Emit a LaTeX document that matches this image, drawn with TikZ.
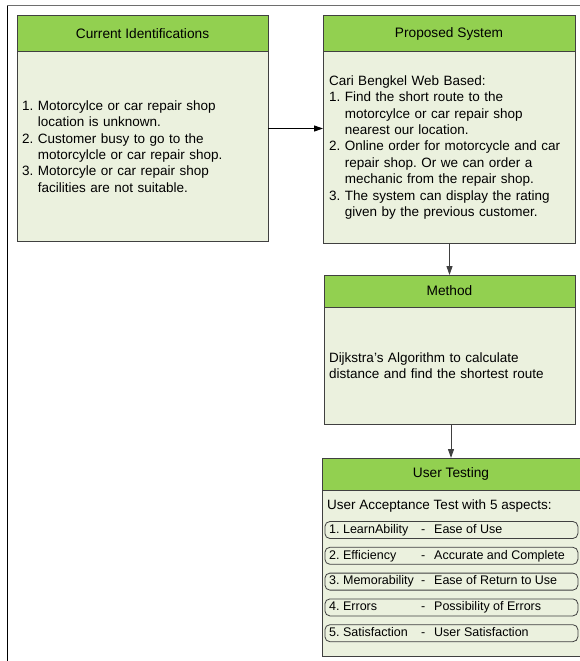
\documentclass[tikz,border=0pt]{standalone}
\usepackage{fontspec}
\setmainfont{Liberation Sans}
\usetikzlibrary{arrows.meta,positioning,fit}
\definecolor{verde}{HTML}{92D050}
\definecolor{fondo}{HTML}{EBF1DE}
\definecolor{borde}{HTML}{404040}
\definecolor{marco}{HTML}{6E6E6E}
\frenchspacing

\begin{document}
\begin{tikzpicture}[x=1pt,y=-1pt,font=\fontsize{13.5}{16.4}\selectfont,
  head/.style={draw=borde,fill=verde,line width=1pt,anchor=north west,inner sep=0pt,outer sep=0pt,font=\fontsize{13.7}{16.4}\selectfont},
  body/.style={draw=borde,fill=fondo,line width=1pt,anchor=north west,inner ysep=0pt,inner xsep=5pt,outer sep=0pt,align=left},
  aspect/.style={draw=borde,line width=0.8pt,rounded corners=5pt,minimum width=253pt,minimum height=17pt,anchor=west,inner sep=0pt},
  lbl/.style={anchor=west,inner sep=0pt,text height=9.5pt,text depth=3pt},
  small/.style={font=\fontsize{12.5}{15}\selectfont},
  flecha/.style={-{Triangle[length=9pt,width=6pt]},line width=1pt}]
\useasboundingbox[fill=white] (0,0) rectangle (579,661);
\coordinate (esquina) at (7,6);
\draw[marco,line width=1pt] (esquina) -- ++(590,0);
\draw[black,line width=1pt] (esquina) -- ++(0,670);
% Current Identifications
\node[head,minimum width=251pt,minimum height=36pt] (ciHead) at (17,16) {Current Identifications};
\node[body,minimum height=189pt,text width=241pt] (ciBody) at (ciHead.south west) {1. Motorcylce or car repair shop\\
\phantom{1. }location is unknown.\\
2. Customer busy to go to the\\
\phantom{2. }motorcylcle or car repair shop.\\
3. Motorcyle or car repair shop\\
\phantom{3. }facilities are not suitable.};
\node[fit=(ciHead)(ciBody),inner sep=0pt] (ci) {};
% Proposed System
\node[head,minimum width=252pt,minimum height=36pt] (psHead) at (323,16) {Proposed System};
\node[body,minimum height=191pt,inner xsep=6pt,text width=240pt] (psBody) at (psHead.south west) {Cari Bengkel Web Based:\\
1. Find the short route to the\\
\phantom{1. }motorcylce or car repair shop\\
\phantom{1. }nearest our location.\\
2. Online order for motorcycle and car\\
\phantom{2. }repair shop. Or we can order a\\
\phantom{2. }mechanic from the repair shop.\\
3. The system can display the rating\\
\phantom{3. }given by the previous customer.};
% Method
\node[head,minimum width=251pt,minimum height=32pt] (mHead) at (324,275) {Method};
\node[body,minimum height=117pt,text width=241pt] (mBody) at (mHead.south west) {Dijkstra's Algorithm to calculate\\
distance and find the shortest route};
% User Testing
\node[head,minimum width=258pt,minimum height=32pt] (utHead) at (322,458) {User Testing};
\node[body,minimum height=166pt,minimum width=258pt] (utBody) at (utHead.south west) {};
\node[lbl] (utIntro) at (327,506) {User Acceptance Test with 5 aspects:};
\foreach \i/\a/\b in {1/1. LearnAbility/Ease of Use,
                      2/2. Efficiency/Accurate and Complete,
                      3/3. Memorability/Ease of Return to Use,
                      4/4. Errors/Possibility of Errors,
                      5/5. Satisfaction/User Satisfaction}{
  \node[aspect] (row\i) at (324.5,{530+25.8*(\i-1)}) {};
  \node[lbl,small] (rowA\i) at (329,{530+25.8*(\i-1)}) {\a};
  \node[lbl,small] (rowD\i) at (421,{530+25.8*(\i-1)}) {-};
  \node[lbl,small] (rowB\i) at (434,{530+25.8*(\i-1)}) {\b};
}
% connectors
\draw[flecha,black] (ci.east) -- (ci.east -| psHead.west);
\draw[flecha,borde] (mHead.north |- psBody.south) -- (mHead.north);
\draw[flecha,borde] (utHead.north |- mBody.south) -- (utHead.north);
\end{tikzpicture}
\end{document}
